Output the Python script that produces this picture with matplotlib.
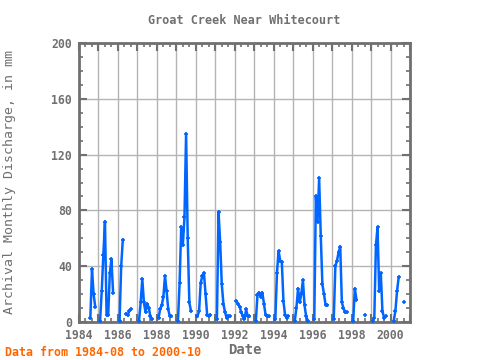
"""Groat Creek near Whitecourt: archival monthly discharge, 1984-08 to 2000-10."""
import matplotlib

matplotlib.use("Agg")
import matplotlib.pyplot as plt
import numpy as np
from matplotlib.ticker import MultipleLocator

nan = np.nan

# monthly discharge in mm, Jan..Dec, NaN where there is no record
q1984 = [nan, nan, nan, nan, nan, nan, nan, 3, 38, 20, 11, nan]
q1985 = [nan, 1, 22, 48, 72, 5, 5, 35, 45, 21, nan, nan]
q1986 = [nan, 1, 40, 59, nan, 6, 5, 8, 9, nan, nan, nan]
q1987 = [nan, 1, 14, 31, 14, 7, 13, 10, 4, 2, nan, nan]
q1988 = [nan, 3, 9, 12, 18, 33, 22, 9, 4, 4, nan, nan]
q1989 = [nan, 1, 28, 68, 55, 75, 135, 60, 14, 8, nan, nan]
q1990 = [nan, 4, 8, 28, 33, 35, 20, 5, 4, 5, nan, nan]
q1991 = [nan, 2, 79, 57, 27, 13, 7, 3, 4, 4, nan, nan]
q1992 = [nan, 15, 13, 11, 7, 4, 2, 9, 4, 4, nan, nan]
q1993 = [nan, 1, 19, 21, 18, 21, 13, 5, 4, 4, nan, nan]
q1994 = [nan, 2, 35, 51, 44, 43, 15, 5, 3, 4, nan, nan]
q1995 = [nan, 1, 10, 24, 14, 20, 30, 12, 4, 1, nan, nan]
q1996 = [nan, 2, 90, 72, 103, 62, 27, 20, 12, 12, nan, nan]
q1997 = [nan, 2, 40, 44, 50, 54, 14, 10, 7, 7, nan, nan]
q1998 = [nan, 1, 24, 16, nan, nan, nan, nan, 5, nan, nan, nan]
q1999 = [nan, 1, 3, 55, 68, 22, 35, 8, 3, 4, nan, nan]
q2000 = [nan, nan, 1, 8, 22, 32, nan, nan, 14, nan, nan, nan]

YEARS = list(range(1984, 2001))
TITLE = "Groat Creek Near Whitecourt"
Y_LABEL = "Archival Monthly Discharge, in mm"
X_LABEL = "Date"
NOTE = "Data from 1984-08 to 2000-10"

BLUE = "#0066ff"
FRAME = "#707070"
GRID = "#b4b4b4"

values = np.array(q1984 + q1985 + q1986 + q1987 + q1988 + q1989 + q1990 + q1991
                  + q1992 + q1993 + q1994 + q1995 + q1996 + q1997 + q1998 + q1999
                  + q2000, dtype=float)
dates = np.array([y + m / 12 for y in YEARS for m in range(12)])

plt.rcParams["font.family"] = ["DejaVu Sans Mono"]

fig = plt.figure(figsize=(4.8, 3.6), dpi=100)
ax = fig.add_axes([79 / 480, 1 - 322 / 360, 331 / 480, 279 / 360])

ax.plot(dates, values, color=BLUE, lw=1.8, marker="+", ms=2.5, mew=1.2, zorder=3)

ax.set_xlim(1984, 2001)
ax.set_ylim(0, 200)
ax.xaxis.set_major_locator(MultipleLocator(1))
ax.xaxis.set_minor_locator(MultipleLocator(1 / 3))
ax.yaxis.set_major_locator(MultipleLocator(40))
ax.yaxis.set_minor_locator(MultipleLocator(10))
ax.set_xticklabels([str(int(round(t))) if int(round(t)) % 2 == 0 else ""
                    for t in ax.get_xticks()])
ax.set_xlim(1984, 2001)

ax.grid(True, which="major", color=GRID, lw=1.0, zorder=0)
ax.tick_params(which="both", direction="in", top=True, right=True, color=FRAME,
               labelcolor=FRAME, labelsize=8.3)
ax.tick_params(which="major", length=6, width=1.5, pad=5)
ax.tick_params(which="minor", length=3, width=1.2)
for lbl in ax.get_xticklabels() + ax.get_yticklabels():
    lbl.set_fontweight("bold")
for spine in ax.spines.values():
    spine.set_color(FRAME)
    spine.set_linewidth(2)

ax.set_title(TITLE, color=FRAME, fontsize=8.5, fontweight="bold", pad=14)
ax.set_ylabel(Y_LABEL, color=FRAME, fontsize=9.5)
ax.yaxis.set_label_coords(-63 / 331, 0.5)
ax.set_xlabel(X_LABEL, color=FRAME, fontsize=10, fontweight="bold", labelpad=1)
fig.text(5 / 480, 1 - 352 / 360, NOTE, color="#ff6600", fontsize=8.4,
         fontweight="bold", va="center", ha="left")

fig.savefig("out.png", dpi=100)
